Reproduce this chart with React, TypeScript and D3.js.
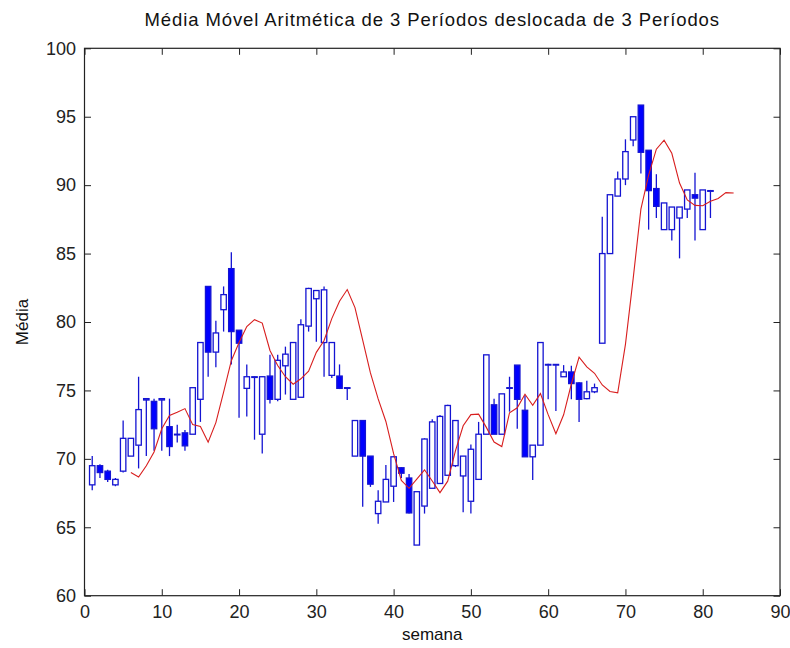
import { useEffect, useRef } from 'react';
import * as d3 from 'd3';

// semanas 1..81
const openP = [
  68.1, 69.5, 69.1, 68.1, 69.1, 70.2, 71.0, 74.3, 74.2, 74.3,
  72.35, 71.75, 71.9, 71.8, 74.35, 82.6, 77.8, 80.9, 83.9, 79.4,
  75.15, 75.95, 71.8, 76.05, 74.35, 76.8, 74.35, 74.5, 79.7, 81.7,
  78.5, 76.1, 76.05, 75.15, 70.2, 72.8, 70.2, 66.0, 66.85, 68.0,
  69.35, 68.6, 63.7, 66.55, 67.85, 68.2, 68.8, 69.5, 68.75, 66.9,
  68.5, 71.8, 73.95, 71.8, 75.15, 76.85, 73.55, 70.15, 71.0, 76.85,
  76.85, 76.0, 76.35, 75.55, 74.4, 74.9, 78.45, 85.0, 89.2, 90.45,
  93.3, 95.85, 92.55, 89.75, 86.75, 86.75, 87.6, 88.25, 89.3, 86.75,
  89.55,
];
const highP = [
  70.2, 69.6, 69.2, 68.6, 72.8, 71.5, 76.0, 74.4, 74.4, 74.4,
  74.4, 72.5, 72.1, 75.2, 78.5, 82.6, 80.1, 82.6, 85.1, 79.4,
  76.9, 76.05, 76.05, 77.6, 77.6, 78.2, 78.5, 80.2, 82.5, 82.3,
  82.6, 78.5, 76.9, 75.2, 72.8, 72.8, 70.2, 67.7, 69.55, 70.2,
  69.4, 68.9, 67.6, 71.5, 72.9, 73.2, 73.95, 72.8, 70.2, 71.05,
  72.7, 77.6, 74.4, 74.75, 76.0, 76.85, 74.65, 71.0, 78.5, 76.95,
  76.9, 76.85, 76.8, 75.6, 75.7, 75.5, 87.7, 89.3, 91.0, 93.35,
  95.0, 95.85, 92.55, 90.8, 88.7, 88.4, 88.4, 89.65, 90.9, 89.65,
  89.65,
];
const lowP = [
  67.7, 68.6, 68.3, 68.0, 69.0, 70.2, 69.3, 70.2, 70.6, 70.6,
  70.2, 71.2, 70.6, 71.8, 72.7, 76.0, 76.7, 79.3, 76.9, 73.0,
  73.1, 71.4, 70.4, 74.05, 74.2, 74.7, 74.35, 74.5, 79.3, 78.55,
  76.0, 75.9, 75.1, 74.3, 70.2, 66.5, 67.95, 65.25, 66.85, 66.85,
  68.6, 66.0, 63.7, 66.0, 67.85, 68.2, 68.8, 69.4, 66.1, 66.0,
  68.5, 71.8, 71.8, 71.8, 73.45, 72.2, 70.15, 68.45, 71.0, 74.35,
  73.5, 76.0, 74.35, 72.7, 74.35, 74.8, 78.45, 85.0, 89.2, 90.0,
  92.85, 90.85, 86.75, 87.6, 86.75, 85.95, 84.65, 87.6, 85.95, 86.75,
  87.6,
];
const closeP = [
  69.5, 69.0, 68.5, 68.5, 71.5, 71.5, 73.6, 74.4, 72.2, 74.4,
  70.9, 71.8, 70.95, 75.2, 78.5, 77.8, 79.2, 82.0, 79.3, 78.45,
  76.0, 76.0, 76.0, 74.35, 77.2, 77.65, 78.5, 79.8, 82.45, 82.3,
  82.35, 78.5, 75.15, 75.2, 72.8, 70.2, 68.15, 66.9, 68.5, 70.15,
  68.95, 66.05, 67.6, 71.45, 72.7, 73.1, 73.9, 72.8, 70.2, 70.7,
  71.8, 77.6, 71.8, 74.75, 75.2, 74.35, 70.15, 71.0, 78.5, 76.9,
  76.9, 76.35, 75.5, 74.35, 74.9, 75.2, 85.0, 89.3, 90.45, 92.45,
  95.0, 92.4, 89.6, 88.45, 88.7, 88.4, 88.4, 89.65, 89.05, 89.65,
  89.6,
];

// média móvel (semanas 6..84)
const maStart = 6;
const maValues = [
  69.0, 68.67, 69.5, 70.5, 72.2, 73.17, 73.4, 73.67, 72.5, 72.37,
  71.22, 72.65, 74.88, 77.17, 78.5, 79.67, 80.17, 79.92, 77.92, 76.82,
  76.0, 75.45, 75.85, 76.4, 77.78, 78.65, 80.25, 81.52, 82.37, 81.05,
  78.67, 76.28, 74.38, 72.73, 70.38, 68.42, 67.85, 68.52, 69.2, 68.38,
  67.53, 68.37, 70.58, 72.42, 73.23, 73.27, 72.3, 71.23, 70.9, 73.37,
  73.73, 74.72, 73.92, 74.77, 73.23, 71.83, 73.22, 75.47, 77.43, 76.72,
  76.25, 75.4, 74.92, 74.82, 78.37, 83.17, 88.25, 90.73, 92.63, 93.28,
  92.33, 90.15, 88.92, 88.52, 88.5, 88.82, 89.03, 89.45, 89.43,
];

const xTicks = [0, 10, 20, 30, 40, 50, 60, 70, 80, 90];
const yTicks = [60, 65, 70, 75, 80, 85, 90, 95, 100];

export default function App() {
  const svgRef = useRef(null);

  useEffect(() => {
    const width = 790;
    const height = 648;
    const left = 84.5, right = 780, top = 48.3, bottom = 595.7;
    const font = '"Liberation Sans", Arial, sans-serif';

    const svg = d3.select(svgRef.current)
      .attr('width', width)
      .attr('height', height);
    svg.selectAll('*').remove();

    svg.append('rect').attr('width', width).attr('height', height).attr('fill', '#fff');

    const x = d3.scaleLinear().domain([0, 90]).range([left, right]);
    const y = d3.scaleLinear().domain([60, 100]).range([bottom, top]);

    const candles = openP.map((o, i) => ({
      w: i + 1, o, h: highP[i], l: lowP[i], c: closeP[i],
    }));
    const bw = x(0.7) - x(0);
    const blue = '#1414d2';

    const g = svg.append('g');
    candles.forEach(d => {
      const bodyTop = Math.max(d.o, d.c);
      const bodyBot = Math.min(d.o, d.c);
      const cx = x(d.w);
      if (d.h > bodyTop) {
        g.append('line').attr('x1', cx).attr('x2', cx)
          .attr('y1', y(d.h)).attr('y2', y(bodyTop))
          .attr('stroke', blue).attr('stroke-width', 1.3);
      }
      if (d.l < bodyBot) {
        g.append('line').attr('x1', cx).attr('x2', cx)
          .attr('y1', y(bodyBot)).attr('y2', y(d.l))
          .attr('stroke', blue).attr('stroke-width', 1.3);
      }
      g.append('rect')
        .attr('x', cx - bw / 2)
        .attr('y', y(bodyTop))
        .attr('width', bw)
        .attr('height', y(bodyBot) - y(bodyTop))
        .attr('fill', d.c < d.o ? '#0000ff' : '#fff')
        .attr('stroke', blue)
        .attr('stroke-width', 1.3);
    });

    // linha da média móvel
    const line = d3.line()
      .x((d, i) => x(maStart + i))
      .y(d => y(d));
    svg.append('path')
      .datum(maValues)
      .attr('d', line)
      .attr('fill', 'none')
      .attr('stroke', '#d81e1e')
      .attr('stroke-width', 1.1);

    // eixos (estilo matlab, ticks para dentro)
    const tick = 6.5;
    const axisStyle = sel => {
      sel.selectAll('text').attr('font-family', font).attr('font-size', 18).attr('fill', '#222');
      sel.selectAll('line').attr('stroke', '#222');
      sel.select('.domain').remove();
    };
    svg.append('g')
      .attr('transform', `translate(0,${bottom})`)
      .call(d3.axisBottom(x).tickValues(xTicks).tickSize(-tick).tickPadding(10).tickFormat(d3.format('d')))
      .call(axisStyle);
    svg.append('g')
      .attr('transform', `translate(0,${top})`)
      .call(d3.axisTop(x).tickValues(xTicks).tickSize(-tick).tickFormat(() => ''))
      .call(axisStyle);
    svg.append('g')
      .attr('transform', `translate(${left},0)`)
      .call(d3.axisLeft(y).tickValues(yTicks).tickSize(-tick).tickPadding(8.5).tickFormat(d3.format('d')))
      .call(axisStyle);
    svg.append('g')
      .attr('transform', `translate(${right},0)`)
      .call(d3.axisRight(y).tickValues(yTicks).tickSize(-tick).tickFormat(() => ''))
      .call(axisStyle);

    svg.append('rect')
      .attr('x', left).attr('y', top)
      .attr('width', right - left).attr('height', bottom - top)
      .attr('fill', 'none').attr('stroke', '#222').attr('stroke-width', 1.2);

    svg.append('text')
      .attr('x', (left + right) / 2).attr('y', 26)
      .attr('text-anchor', 'middle')
      .attr('font-family', font).attr('font-size', 18.5).attr('fill', '#111')
      .attr('letter-spacing', 0.9)
      .text('Média Móvel Aritmética de 3 Períodos deslocada de 3 Períodos');

    svg.append('text')
      .attr('x', (left + right) / 2).attr('y', 640)
      .attr('text-anchor', 'middle')
      .attr('font-family', font).attr('font-size', 17).attr('fill', '#111')
      .text('semana');

    svg.append('text')
      .attr('transform', `translate(28,${(top + bottom) / 2}) rotate(-90)`)
      .attr('text-anchor', 'middle')
      .attr('font-family', font).attr('font-size', 17).attr('fill', '#111')
      .text('Média');
  }, []);

  return <svg ref={svgRef} style={{ position: 'absolute', left: 0, top: 0 }}></svg>;
}
